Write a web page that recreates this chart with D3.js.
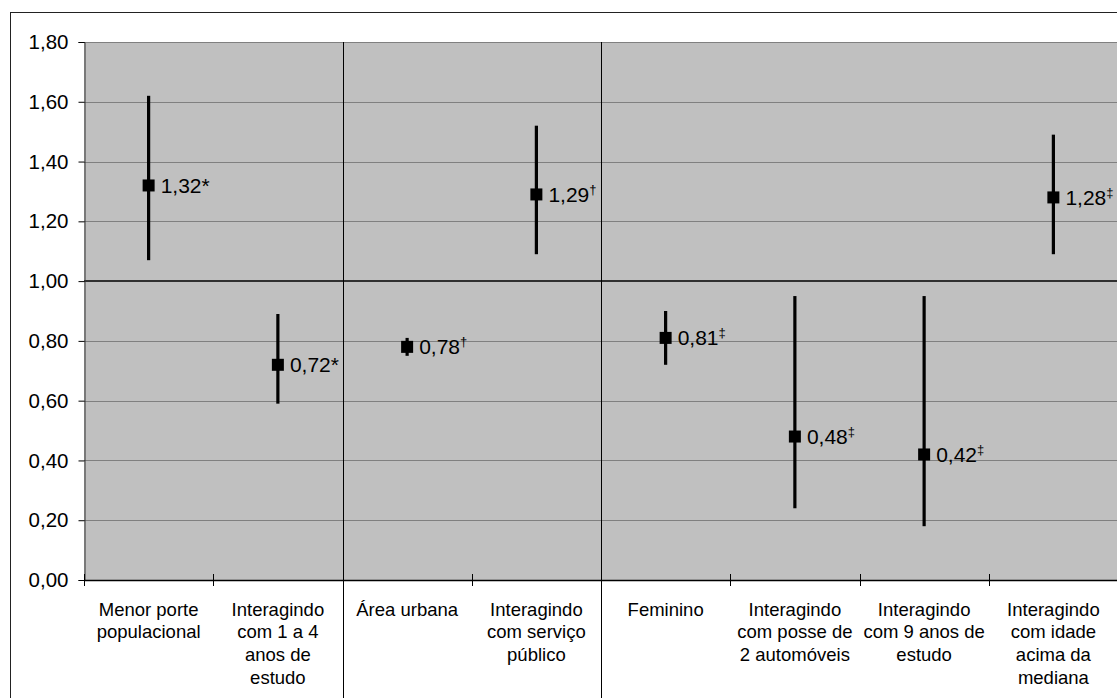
<!DOCTYPE html>
<html>
<head>
<meta charset="utf-8">
<script src="https://cdn.jsdelivr.net/npm/d3@7"></script>
<style>
  html, body { margin: 0; padding: 0; background: #fff; }
  svg { display: block; font-family: "Liberation Sans", Arial, sans-serif; }
</style>
</head>
<body>
<svg id="chart" width="1117" height="698"></svg>
<script>
// Odds ratios with 95% confidence intervals, one per model term
const categoryLines = [
  ["Menor porte", "populacional"],
  ["Interagindo", "com 1 a 4", "anos de", "estudo"],
  ["Área urbana"],
  ["Interagindo", "com serviço", "público"],
  ["Feminino"],
  ["Interagindo", "com posse de", "2 automóveis"],
  ["Interagindo", "com 9 anos de", "estudo"],
  ["Interagindo", "com idade", "acima da", "mediana"]
];
const oddsRatio = [1.32, 0.72, 0.78, 1.29, 0.81, 0.48, 0.42, 1.28];
const ciLower   = [1.07, 0.59, 0.75, 1.09, 0.72, 0.24, 0.18, 1.09];
const ciUpper   = [1.62, 0.89, 0.81, 1.52, 0.90, 0.95, 0.95, 1.49];
const sigMarks  = ["*", "*", "†", "†", "‡", "‡", "‡", "‡"];
// model blocks start at these category indices
const groupStarts = [2, 4];
const yTicks = [0, 0.2, 0.4, 0.6, 0.8, 1.0, 1.2, 1.4, 1.6, 1.8];

const rows = oddsRatio.map((v, i) => ({
  i, value: v, lo: ciLower[i], hi: ciUpper[i], mark: sigMarks[i]
}));

const svg = d3.select("#chart");
const plot = { left: 84, right: 1118, top: 42, bottom: 580 };

const x = d3.scaleBand()
  .domain(d3.range(categoryLines.length))
  .range([plot.left, plot.right])
  .paddingInner(0).paddingOuter(0);
const y = d3.scaleLinear().domain([0, 1.8]).range([plot.bottom, plot.top]);
const cx = i => x(i) + x.bandwidth() / 2;

const ptBR = d3.formatLocale({ decimal: ",", thousands: ".", grouping: [3], currency: ["R$", ""] });
const fmt = ptBR.format(".2f");

// outer frame
svg.append("rect")
  .attr("x", 10.5).attr("y", 12.5)
  .attr("width", 1200).attr("height", 800)
  .attr("fill", "#fff").attr("stroke", "#222").attr("stroke-width", 1);

// plot background
svg.append("rect")
  .attr("x", plot.left).attr("y", plot.top)
  .attr("width", plot.right - plot.left).attr("height", plot.bottom - plot.top)
  .attr("fill", "#c0c0c0");

// horizontal gridlines
svg.append("g")
  .selectAll("line")
  .data(yTicks.filter(t => t > 0 && t !== 1.0))
  .join("line")
  .attr("x1", plot.left).attr("x2", plot.right)
  .attr("y1", d => Math.round(y(d)) + 0.5).attr("y2", d => Math.round(y(d)) + 0.5)
  .attr("stroke", "#808080").attr("stroke-width", 1);

// reference line at OR = 1
svg.append("line")
  .attr("x1", plot.left).attr("x2", plot.right)
  .attr("y1", y(1.0)).attr("y2", y(1.0))
  .attr("stroke", "#000").attr("stroke-width", 1.5);

// block separators, running down through the label area
svg.append("g")
  .selectAll("line")
  .data(groupStarts)
  .join("line")
  .attr("x1", d => Math.round(x(d)) + 0.5).attr("x2", d => Math.round(x(d)) + 0.5)
  .attr("y1", plot.top).attr("y2", 698)
  .attr("stroke", "#000").attr("stroke-width", 1);

// y axis
const yAxis = d3.axisLeft(y).tickValues(yTicks).tickSize(6).tickPadding(10)
  .tickFormat(d => fmt(d));
const gy = svg.append("g").attr("transform", `translate(${plot.left + 0.5},0)`).call(yAxis);
gy.select(".domain").attr("stroke", "#333");
gy.selectAll(".tick line").attr("stroke", "#000");
gy.selectAll(".tick text")
  .attr("font-size", 20.5).attr("fill", "#000")
  .attr("font-family", "'Liberation Sans', Arial, sans-serif");

// x axis baseline with crossing tick marks at category boundaries
svg.append("line")
  .attr("x1", plot.left).attr("x2", plot.right)
  .attr("y1", plot.bottom + 0.5).attr("y2", plot.bottom + 0.5)
  .attr("stroke", "#000").attr("stroke-width", 1.3);
svg.append("g")
  .selectAll("line")
  .data(d3.range(categoryLines.length))
  .join("line")
  .attr("x1", d => Math.round(x(d)) + 0.5).attr("x2", d => Math.round(x(d)) + 0.5)
  .attr("y1", plot.bottom - 6).attr("y2", plot.bottom + 6)
  .attr("stroke", "#000").attr("stroke-width", 1);

// category labels
const labels = svg.append("g")
  .selectAll("text")
  .data(categoryLines)
  .join("text")
  .attr("text-anchor", "middle")
  .attr("font-size", 18.5)
  .attr("fill", "#000")
  .attr("transform", (d, i) => `translate(${cx(i)},615.5)`);
labels.selectAll("tspan")
  .data(d => d)
  .join("tspan")
  .attr("x", 0)
  .attr("y", (d, j) => j * 22.7)
  .text(d => d);

// confidence interval whiskers
svg.append("g")
  .selectAll("line")
  .data(rows)
  .join("line")
  .attr("x1", d => cx(d.i)).attr("x2", d => cx(d.i))
  .attr("y1", d => y(d.lo)).attr("y2", d => y(d.hi))
  .attr("stroke", "#000").attr("stroke-width", 3.2);

// point estimates
svg.append("g")
  .selectAll("rect")
  .data(rows)
  .join("rect")
  .attr("x", d => cx(d.i) - 6).attr("y", d => y(d.value) - 6)
  .attr("width", 12).attr("height", 12)
  .attr("fill", "#000");

// value labels with significance marks
const vlab = svg.append("g")
  .selectAll("text")
  .data(rows)
  .join("text")
  .attr("x", d => cx(d.i) + 12)
  .attr("y", d => y(d.value) + 7.5)
  .attr("font-size", 21)
  .attr("fill", "#000");
vlab.append("tspan").text(d => fmt(d.value) + (d.mark === "*" ? "*" : ""));
vlab.filter(d => d.mark !== "*")
  .append("tspan")
  .attr("font-size", 13)
  .attr("dy", -8)
  .text(d => d.mark);
</script>
</body>
</html>
